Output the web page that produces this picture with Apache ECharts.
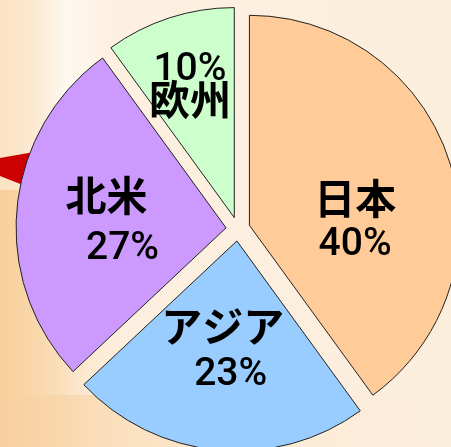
<!DOCTYPE html>
<html lang="ja">
<head>
  <meta charset="UTF-8">
  <title>地域別シェア</title>
  <script src="https://cdn.jsdelivr.net/npm/echarts@6/dist/echarts.min.js"></script>
  <style>
    html, body { margin: 0; padding: 0; }
  </style>
</head>
<body>
<div id="main" style="width: 451px;height:447px;"></div>
<script type="text/javascript">
    // データ
    var regions = ['日本', 'アジア', '北米', '欧州'];
    var shares = [40, 23, 27, 10];
    var sliceColors = ['#FFCC99', '#99CCFF', '#CC99FF', '#CCFFCC'];
    // ラベルの並び（欧州だけ % が上）
    var percentFirst = [false, false, false, true];
    var labelShift = [[3, 30], [-4, 2], [-12, 5], [-11, -30]];
    var labelLineHeight = [46, 49, 54, 30];
    var numPadLeft = [0, 16, 32, 0];

    var myChart = echarts.init(document.getElementById('main'));

    // offset が効かないので padding でずらす
    function shiftPadding(s) {
        var dx = s[0], dy = s[1];
        return [
            dy > 0 ? 2 * dy : 0,
            dx < 0 ? -2 * dx : 0,
            dy < 0 ? -2 * dy : 0,
            dx > 0 ? 2 * dx : 0
        ];
    }

    var richStyles = {};
    regions.forEach(function (name, i) {
        richStyles['c' + i] = {
            fontFamily: 'Noto Sans CJK JP',
            fontWeight: 'bold',
            fontSize: 41,
            lineHeight: labelLineHeight[i],
            color: '#000'
        };
        richStyles['n' + i] = {
            fontFamily: 'Roboto',
            fontWeight: 500,
            fontSize: 39,
            lineHeight: labelLineHeight[i],
            color: '#000',
            padding: [0, 0, 0, numPadLeft[i]]
        };
    });

    var pieData = regions.map(function (name, i) {
        var name_ = '{c' + i + '|' + name + '}';
        var pct = '{n' + i + '|' + shares[i] + '%}';
        return {
            name: name,
            value: shares[i],
            selected: true,
            itemStyle: { color: sliceColors[i] },
            label: {
                padding: shiftPadding(labelShift[i]),
                formatter: percentFirst[i] ? pct + '\n' + name_ : name_ + '\n' + pct
            }
        };
    });

    option = {
        animation: false,
        graphic: [{
            type: 'rect',
            z: -10,
            shape: { x: 0, y: 0, width: 451, height: 447 },
            style: {
                fill: {
                    type: 'linear', x: 0, y: 0, x2: 1, y2: 0,
                    colorStops: [
                        { offset: 0, color: '#FBE2C2' },
                        { offset: 0.08, color: '#FCEAD4' },
                        { offset: 0.15, color: '#FEF8F0' },
                        { offset: 0.25, color: '#FDF0E0' },
                        { offset: 1, color: '#FCEEDD' }
                    ]
                }
            }
        }, {
            type: 'rect',
            z: -9,
            shape: { x: 0, y: 190, width: 130, height: 257 },
            style: {
                fill: {
                    type: 'linear', x: 0, y: 0, x2: 1, y2: 0,
                    colorStops: [
                        { offset: 0, color: 'rgba(248,205,150,0.9)' },
                        { offset: 0.5, color: 'rgba(249,215,170,0.7)' },
                        { offset: 1, color: 'rgba(252,230,200,0)' }
                    ]
                }
            }
        }, {
            type: 'rect',
            z: -9,
            shape: { x: 0, y: 395, width: 451, height: 52 },
            style: {
                fill: {
                    type: 'linear', x: 0, y: 0, x2: 1, y2: 0,
                    colorStops: [
                        { offset: 0, color: 'rgba(248,208,160,0.8)' },
                        { offset: 0.5, color: 'rgba(250,222,185,0.5)' },
                        { offset: 1, color: 'rgba(252,236,216,0)' }
                    ]
                }
            }
        }, {
            // 左端の赤い矢印
            type: 'polygon',
            z: -5,
            shape: { points: [[0, 158], [34, 152], [28, 187], [0, 176]] },
            style: { fill: '#CC0000' }
        }],
        series: [{
            name: 'シェア',
            type: 'pie',
            center: [238, 229],
            radius: 210,
            startAngle: 90,
            clockwise: true,
            selectedMode: 'multiple',
            selectedOffset: 12,
            silent: true,
            itemStyle: {
                borderColor: '#222',
                borderWidth: 1
            },
            label: {
                show: true,
                position: 'inside',
                color: '#000',
                rich: richStyles
            },
            labelLine: { show: false },
            emphasis: { disabled: true },
            data: pieData
        }]
    };

    myChart.setOption(option);
</script>
</body>
</html>
